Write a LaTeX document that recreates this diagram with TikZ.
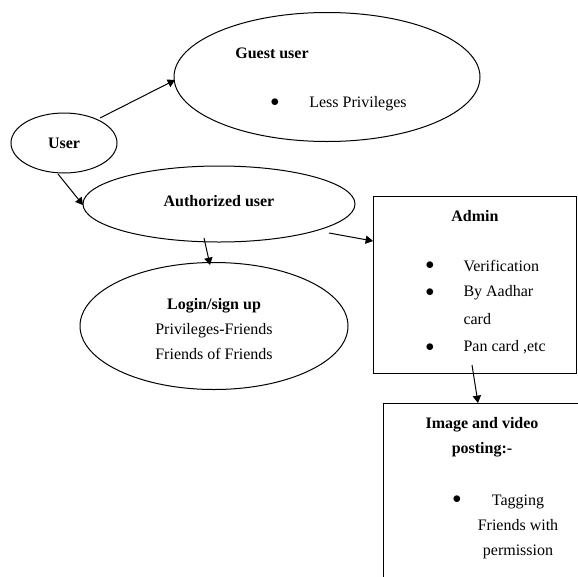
\documentclass[tikz,border=0pt]{standalone}
\usepackage{fontspec}
\setmainfont{Liberation Serif}
\usetikzlibrary{arrows,shapes.geometric,positioning}

\begin{document}
\begin{tikzpicture}[x=1pt, y=-1pt, ->, >=triangle 60, line width=1pt,
                    font=\fontsize{16}{25}\selectfont]
    \tikzstyle{oval}=[draw, ellipse, inner sep=0pt, align=center]
    \tikzstyle{panel}=[draw, rectangle, inner sep=0pt, anchor=north west]
    \tikzstyle{txt}=[inner sep=0pt, align=center]

    \useasboundingbox (0,0) rectangle (578,576);
    \clip (0,0) rectangle (578,576);

    % ellipses
    \node[oval, minimum width=106pt, minimum height=60pt]  (user)  at (64,143)  {\textbf{User}};
    \node[oval, minimum width=306pt, minimum height=129pt] (guest) at (327,77)  {};
    \node[oval, minimum width=272pt, minimum height=76pt]  (auth)  at (219,204) {};
    \node[oval, minimum width=268pt, minimum height=127pt] (login) at (214,326) {};

    % boxes
    \node[panel, minimum width=203pt, minimum height=177pt] (admin) at (373,196) {};
    \node[panel, minimum width=220pt, minimum height=200pt] (media) at (383,403) {};

    % texts of ellipses
    \node[txt] (authT)  at (219,201) {\textbf{Authorized user}};
    \node[txt] (loginT) at (214,329) {\textbf{Login/sign up}\\Privileges-Friends\\Friends of Friends};
    \node[txt] (guestT) at (272,53)  {\textbf{Guest user}};
    \node[txt] (guestB) at (275,103) {$\bullet$};
    \node[txt] (guestL) at (358,104) {Less Privileges};

    % texts of admin
    \node[txt] (adminT) at (475,216) {\textbf{Admin}};
    \foreach \y/\n in {266/a, 293/b, 348/d}
        \node[txt] (dot\n) at (430,\y) {$\bullet$};
    \node[txt, anchor=west] (admA) at (463,266) {Verification};
    \node[txt, anchor=west] (admB) at (463,293) {By Aadhar};
    \node[txt, anchor=west] (admC) at (463,319) {card};
    \node[txt, anchor=west] (admD) at (463,347) {Pan card ,etc};

    % texts of media
    \node[txt] (mediaT) at (482,437) {\textbf{Image and video}\\\textbf{posting:-}};
    \node[txt] (mediaB) at (457,500) {$\bullet$};
    \node[txt] (mediaL) at (518,527) {Tagging\\Friends with\\permission};

    % arrows
    \coordinate (a1) at (100,118);  \coordinate (b1) at (175,80);
    \coordinate (a2) at (58,174);   \coordinate (b2) at (83,205);
    \coordinate (a3) at (204,238);  \coordinate (b3) at (210,265);
    \coordinate (a4) at (329,233);  \coordinate (b4) at (373,241);
    \coordinate (a5) at (472,365);  \coordinate (b5) at (478,403);
    \draw (a1) -- (b1);
    \draw (a2) -- (b2);
    \draw (a3) -- (b3);
    \draw (a4) -- (b4);
    \draw (a5) -- (b5);
\end{tikzpicture}
\end{document}
